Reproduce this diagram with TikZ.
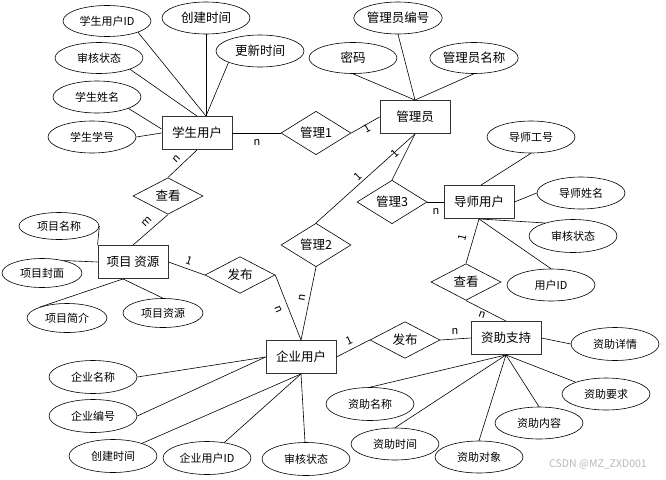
\documentclass[tikz,border=0pt]{standalone}
\usepackage{fontspec}
\setmainfont{Noto Sans CJK SC}
\usetikzlibrary{shapes.geometric}
\tikzset{
  ent/.style={draw=black!80,line width=0.9pt,minimum width=70pt,minimum height=33pt,inner sep=0pt,font=\fontsize{12.5}{14}\selectfont},
  attr/.style={draw,ellipse,line width=0.6pt,minimum width=88pt,minimum height=31pt,inner sep=0pt,font=\fontsize{11}{13}\selectfont},
  attrb/.style={attr,font=\fontsize{12.5}{14}\selectfont},
  pattr/.style={attr,minimum width=80pt,minimum height=29pt},
  rel/.style={draw,diamond,line width=0.6pt,minimum width=70pt,minimum height=33pt,inner sep=0pt,font=\fontsize{12.5}{14}\selectfont},
  conn/.style={line width=0.6pt},
  card/.style={inner sep=0pt,font=\fontsize{11}{12}\selectfont}
}
\begin{document}
\begin{tikzpicture}[x=1pt,y=-1pt]
\useasboundingbox[fill=white] (0,0) rectangle (666,479);
% entities
\node[ent] (stu) at (197,133) {学生用户};
\node[ent] (adm) at (415,117) {管理员};
\node[ent] (tch) at (479,202) {导师用户};
\node[ent] (proj) at (133,262) {项目 资源};
\node[ent] (ent) at (301,357) {企业用户};
\node[ent] (fund) at (506,338) {资助支持};
% relations
\node[rel] (g1) at (316,133) {管理1};
\node[rel] (g2) at (316,245) {管理2};
\node[rel] (g3) at (392,202) {管理3};
\node[rel] (ck1) at (168,196) {查看};
\node[rel] (ck2) at (466,282) {查看};
\node[rel] (fb1) at (240,275) {发布};
\node[rel] (fb2) at (405,340) {发布};
% student attributes
\node[attr] (sID) at (107,21) {学生用户ID};
\node[attrb,minimum height=32pt] (sCT) at (206,18) {创建时间};
\node[attrb,minimum height=32pt] (sUT) at (260,51) {更新时间};
\node[attr] (sSH) at (99,58) {审核状态};
\node[attr,minimum height=32pt] (sXM) at (97,97) {学生姓名};
\node[attr,minimum height=32pt] (sXH) at (92,137) {学生学号};
% admin attributes
\node[attrb,minimum height=32pt] (aBH) at (398,18) {管理员编号};
\node[attrb] (aMM) at (353,58) {密码};
\node[attrb] (aMC) at (474,58) {管理员名称};
% teacher attributes
\node[attr,minimum height=32pt] (tGH) at (531,137) {导师工号};
\node[attr,minimum height=32pt] (tXM) at (581,193) {导师姓名};
\node[attr,minimum height=33pt] (tSH) at (573,236) {审核状态};
\node[attr,minimum height=32pt] (tID) at (551,285) {用户ID};
% project attributes
\node[pattr,minimum height=27pt] (pMC) at (59,226) {项目名称};
\node[pattr] (pFM) at (42,273) {项目封面};
\node[pattr] (pJJ) at (67,318) {项目简介};
\node[pattr] (pZY) at (163,313) {项目资源};
% enterprise attributes
\node[attr,minimum height=33pt] (eMC) at (93,377) {企业名称};
\node[attr,minimum height=33pt] (eBH) at (93,416) {企业编号};
\node[attr,minimum height=33pt] (eCT) at (113,456) {创建时间};
\node[attr,minimum height=33pt] (eID) at (207,458) {企业用户ID};
\node[attr,minimum height=33pt] (eSH) at (306,459) {审核状态};
% fund attributes
\node[attr,minimum height=33pt] (fXQ) at (615,344) {资助详情};
\node[attr,minimum height=33pt] (fMC) at (370,404) {资助名称};
\node[attr,minimum height=32pt] (fSJ) at (395,444) {资助时间};
\node[attr,minimum height=32pt] (fDX) at (479,457) {资助对象};
\node[attr,minimum height=32pt] (fNR) at (539,423) {资助内容};
\node[attr,minimum height=32pt] (fYQ) at (606,394) {资助要求};
% attribute connectors
\begin{scope}[conn]
\draw (sID.-20) -- ([xshift=9pt]stu.north);
\draw (sCT.south) -- ([xshift=9pt]stu.north);
\draw (sUT.-160) -- ([xshift=9pt]stu.north);
\draw (sSH.-20) -- (stu.north);
\draw (sXM.-20) -- ([yshift=4pt]stu.west);
\draw (sXH.east) -- (stu.west);
\draw (aBH.south) -- (adm.north);
\draw (aMM.south) -- (adm.north);
\draw (aMC.south) -- (adm.north);
\draw (tGH.south) -- ([xshift=2pt]tch.north);
\draw (tXM.west) -- (tch.east);
\draw (tSH.155) -- (tch.south);
\draw (tID.north) -- (tch.south);
\draw (pMC.east) -- (proj.north west);
\draw (pFM.30) -- (proj.west);
\draw (pJJ.158) -- ([xshift=-10pt]proj.south);
\draw (pZY.north) -- ([xshift=-10pt]proj.south);
\draw (eMC.east) -- (ent.west);
\draw (eBH.east) -- (ent.west);
\draw (eCT) -- (ent.south);
\draw (eID) -- (ent.south);
\draw (eSH) -- (ent.south);
\draw (fXQ.west) -- (fund.east);
\draw (fMC.north) -- (fund.south);
\draw (fSJ.north) -- (fund.south);
\draw (fDX.north) -- (fund.south);
\draw (fNR.north) -- (fund.south);
\draw (fYQ) -- (fund.south);
% relationship connectors
\draw (stu.east) -- (g1.west);
\draw (g1.east) -- (adm.west);
\draw (adm.south) -- (g2.north);
\draw (adm.south) -- (g3.north);
\draw (g3.east) -- (tch.west);
\draw (g2.south) -- (ent.north);
\draw (stu.south) -- (ck1.north);
\draw (ck1.south) -- (proj.north);
\draw (proj.east) -- (fb1.west);
\draw (fb1.east) -- (ent.north);
\draw (ent.east) -- (fb2.west);
\draw (fb2.east) -- (fund.west);
\draw (tch.south) -- (ck2.north);
\draw (ck2.south) -- (fund.north);
\end{scope}
% cardinalities
\node[card] (c1) at (257,142) {n};
\node[card,rotate=30] (c2) at (367,129) {1};
\node[card,rotate=45] (c3) at (177,159) {n};
\node[card,rotate=45] (c4) at (147,222) {m};
\node[card,rotate=-18] (c5) at (189,261) {1};
\node[card,rotate=-67] (c6) at (279,309) {n};
\node[card,rotate=80] (c7) at (302,298) {n};
\node[card,rotate=44] (c8) at (395,154) {1};
\node[card,rotate=44] (c9) at (358,177) {1};
\node[card] (c10) at (436,211) {n};
\node[card,rotate=76] (c11) at (462,238) {1};
\node[card,rotate=-20] (c12) at (482,315) {n};
\node[card,rotate=25] (c13) at (349,341) {1};
\node[card] (c14) at (455,331) {n};
% watermark
\node[inner sep=0pt,text=black!28,font=\fontsize{10.5}{12}\selectfont] (wm) at (598,464) {CSDN @MZ\_ZXD001};
\end{tikzpicture}
\end{document}
